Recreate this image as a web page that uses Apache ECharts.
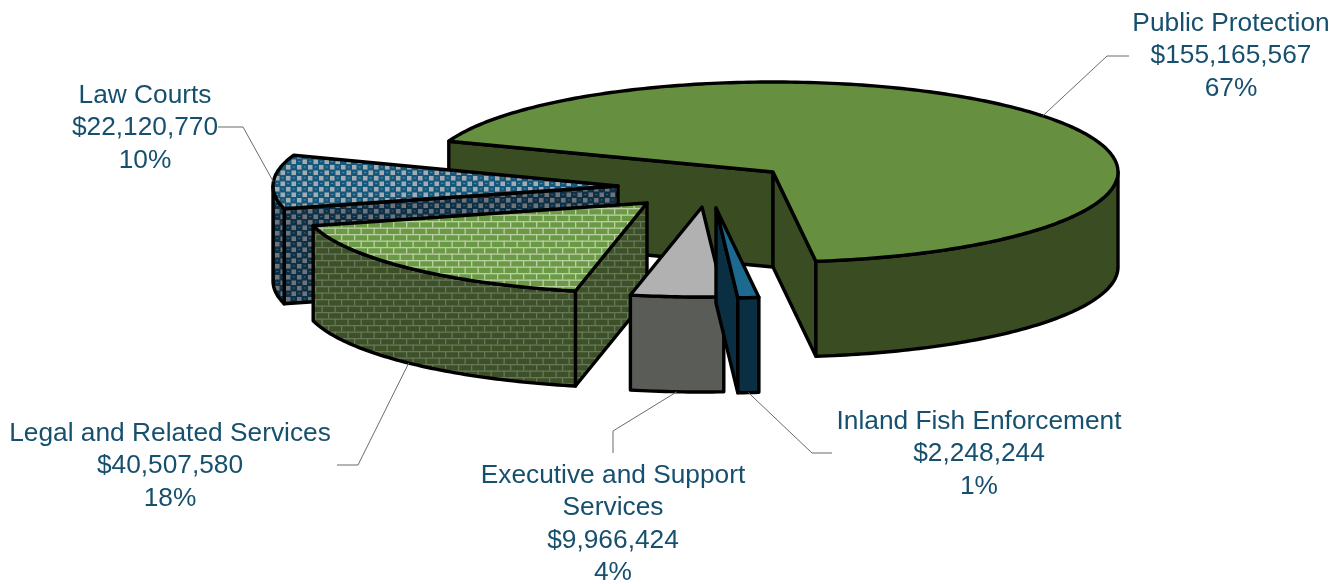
<!DOCTYPE html>
<html>
<head>
<meta charset="utf-8">
<style>html,body{margin:0;padding:0;background:#fff}#c{width:1344px;height:584px}</style>
<script src="https://cdn.jsdelivr.net/npm/echarts@6/dist/echarts.min.js"></script>
</head>
<body>
<div id="c"></div>
<script>
// Data, in clockwise pie order
const categories = ['Public Protection', 'Inland Fish Enforcement', 'Executive and Support\nServices', 'Legal and Related Services', 'Law Courts'];
const values = [155165567, 2248244, 9966424, 40507580, 22120770];

// Layout / projection (one entry per category)
const rx = 345, ry = 90, depth = 95;
const firstSliceAngle = 200.0;          // screen degrees, clockwise, where categories[0] starts
const drawOrder = [0, 4, 3, 2, 1];      // back to front
const sliceApex = [[773,172],[716,208],[702,207],[647,203],[618,186]];
const labelCenter = [[1231,56],[979,454],[613,524],[170,466],[145,128]];
const leaderBend = [
  [[1107,56],[1129,56]],
  [[812,453],[832,453]],
  [[613,431],[613,453]],
  [[358,465],[337,465]],
  [[243,127],[218,127]]
];
const textColor = '#17506e', leaderColor = '#6b6b6b', outline = '#000000';

function tile(w, h, draw) {
  const c = document.createElement('canvas');
  c.width = w; c.height = h;
  draw(c.getContext('2d'));
  return { image: c, repeat: 'repeat' };
}
function bricks(bg, line) {
  return tile(13, 13, g => {
    g.fillStyle = bg; g.fillRect(0,0,13,13);
    g.fillStyle = line;
    g.fillRect(0,0,13,1.3); g.fillRect(0,6.5,13,1.3);
    g.fillRect(3,0,1.3,6.5); g.fillRect(9.5,6.5,1.3,6.5);
  });
}
function checks(bg, sq, hi) {
  return tile(11, 11, g => {
    g.fillStyle = bg; g.fillRect(0,0,11,11);
    g.fillStyle = sq;
    g.fillRect(0,0,4.5,4.5); g.fillRect(5.5,5.5,4.5,4.5);
    g.fillStyle = hi;
    g.fillRect(6.7,1.5,2,0.9); g.fillRect(1.2,7,2,0.9);
  });
}
const topFill = [
  '#668f3f',
  '#1c6a90',
  '#b1b1b1',
  bricks('#6a9a45', '#bccfa3'),
  checks('#16587c', '#a3acb3', '#5f97ab')
];
const wallFill = [
  '#3a4d22',
  '#0a2f43',
  '#5a5c58',
  bricks('#3d5028', '#66785a'),
  checks('#0d3046', '#707478', '#456a7c')
];

const total = values.reduce((a, b) => a + b, 0);
const spans = values.map(v => v / total * 360);
const starts = spans.map((_, i) => firstSliceAngle + spans.slice(0, i).reduce((a, b) => a + b, 0));
const rad = d => d * Math.PI / 180;
const fmtMoney = v => '$' + v.toLocaleString('en-US');

function renderItem(params, api) {
  const i = drawOrder[params.dataIndex];
  const v = api.value(0);
  const a0 = starts[i], a1 = a0 + v / total * 360;
  const A = sliceApex[i];
  const rim = (a, dz) => [A[0] + rx * Math.cos(rad(a)), A[1] + ry * Math.sin(rad(a)) + (dz || 0)];
  const arc = (from, to, dz) => {
    const pts = [], n = Math.max(2, Math.ceil(Math.abs(to - from)));
    for (let k = 0; k <= n; k++) pts.push(rim(from + (to - from) * k / n, dz));
    return pts;
  };
  const poly = (points, fill) => ({
    type: 'polygon', shape: { points },
    style: { fill, stroke: outline, lineWidth: 3.4, lineJoin: 'round' }
  });
  const children = [];
  const flat = (a) => [A, rim(a), rim(a, depth), [A[0], A[1] + depth]];
  if (Math.cos(rad(a0)) < 0) children.push(poly(flat(a0), wallFill[i]));
  if (Math.cos(rad(a1)) > 0) children.push(poly(flat(a1), wallFill[i]));
  // outer wall: front half of the rim only (sin > 0)
  for (let k = Math.floor(a0 / 360) * 360; k < a1; k += 360) {
    const from = Math.max(a0, k), to = Math.min(a1, k + 180);
    if (to > from) {
      children.push(poly(arc(from, to, 0).concat(arc(to, from, depth)), wallFill[i]));
    }
  }
  children.push(poly([A].concat(arc(a0, a1, 0)), topFill[i]));

  // leader line, anchored on the slice rim at its mid angle
  const mid = (a0 + a1) / 2;
  const anchor = rim(mid, Math.sin(rad(mid)) > 0 ? depth : 0);
  children.push({
    type: 'polyline', shape: { points: [anchor].concat(leaderBend[i]) },
    style: { fill: 'none', stroke: leaderColor, lineWidth: 1 }
  });
  // label
  children.push({
    type: 'text',
    style: {
      text: categories[i] + '\n' + fmtMoney(v) + '\n' + Math.round(v / total * 100) + '%',
      x: labelCenter[i][0], y: labelCenter[i][1],
      align: 'center', verticalAlign: 'middle',
      fill: textColor, lineHeight: 32.5,
      font: '26.3px "Liberation Sans", Arial, sans-serif'
    }
  });
  return { type: 'group', children };
}

const chart = echarts.init(document.getElementById('c'), null, { renderer: 'canvas' });
chart.setOption({
  animation: false,
  backgroundColor: '#ffffff',
  series: [{
    type: 'custom',
    coordinateSystem: 'none',
    renderItem,
    data: drawOrder.map(i => ({ name: categories[i], value: [values[i]] }))
  }]
});
</script>
</body>
</html>
